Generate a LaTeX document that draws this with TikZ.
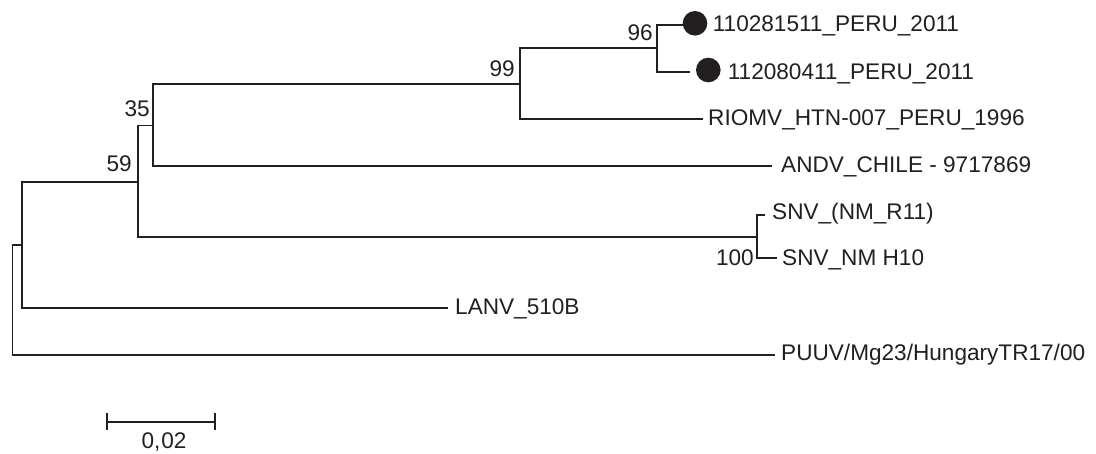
\documentclass[tikz,border=0pt]{standalone}
\usepackage{fontspec}
\setmainfont{Liberation Sans}
\definecolor{ink}{HTML}{231F20}
\begin{document}
\begin{tikzpicture}[x=1pt,y=-1pt,
  branch/.style={draw=ink, line width=1.7pt},
  leaftext/.style={anchor=base west, inner sep=0pt, text=ink, font=\fontsize{22.6}{27}\selectfont},
  support/.style={anchor=base east, inner sep=0pt, text=ink, font=\fontsize{22.6}{27}\selectfont},
  marker/.style={circle, fill=ink, inner sep=0pt, minimum size=24.6pt}]
\fill[white] (0,0) rectangle (1096,453);
\useasboundingbox (0,0) rectangle (1096,453);
% internal nodes
\coordinate (R) at (12.3,300);
\coordinate (A) at (21.7,245);
\coordinate (n59) at (137.7,182.3);
\coordinate (n35) at (153.3,125.5);
\coordinate (n99) at (520,84.3);
\coordinate (n96) at (657,48.3);
\coordinate (nSNV) at (757,237.3);
% leaf ends
\coordinate (e1) at (686,25);
\coordinate (e2) at (690,71.7);
\coordinate (eRIO) at (703,119);
\coordinate (eANDV) at (772,166);
\coordinate (eSNV1) at (765,215);
\coordinate (eSNV2) at (777,258);
\coordinate (eLANV) at (448,307.7);
\coordinate (ePUUV) at (775,355);
% branches
\draw[branch, line width=1.3pt] (R) |- (A);
\draw[branch, line width=1.3pt] (R) |- (ePUUV);
\draw[branch] (A) |- (n59);
\draw[branch] (A) |- (eLANV);
\draw[branch] (n59) |- (n35);
\draw[branch] (n59) |- (nSNV);
\draw[branch] (n35) |- (n99);
\draw[branch] (n35) |- (eANDV);
\draw[branch] (n99) |- (n96);
\draw[branch] (n99) |- (eRIO);
\draw[branch] (n96) |- (e1);
\draw[branch] (n96) |- (e2);
\draw[branch] (nSNV) |- (eSNV1);
\draw[branch] (nSNV) |- (eSNV2);
% markers
\node[marker] (d1) at (695,23.3) {};
\node[marker] (d2) at (708.3,70) {};
% leaf labels
\node[leaftext] (t1) at (712.6,31.7) {110281511\_PERU\_2011};
\node[leaftext] (t2) at (727.6,79) {112080411\_PERU\_2011};
\node[leaftext] (tRIO) at (708,125) {RIOMV\_HTN-007\_PERU\_1996};
\node[leaftext] (tANDV) at (781,172.7) {ANDV\_CHILE - 9717869};
\node[leaftext] (tSNV1) at (772,219.3) {SNV\_(NM\_R11)};
\node[leaftext] (tSNV2) at (782,265.7) {SNV\_NM H10};
\node[leaftext] (tLANV) at (455,314.3) {LANV\_510B};
\node[leaftext] (tPUUV) at (781,360.3) {PUUV/Mg23/HungaryTR17/00};
% support values
\node[support] (s99) at (515,76) {99};
\node[support] (s96) at (653,40.7) {96};
\node[support] (s35) at (150,116.7) {35};
\node[support] (s59) at (132,171.7) {59};
\node[support] (s100) at (754,265.7) {100};
% scale bar
\coordinate (sb1) at (107.3,421.7);
\coordinate (sb2) at (215,421.7);
\draw[branch] (sb1) -- (sb2);
\draw[branch] ([yshift=-8.4pt]sb1) -- ([yshift=8.4pt]sb1);
\draw[branch] ([yshift=-8.4pt]sb2) -- ([yshift=8.4pt]sb2);
\node[anchor=base, inner sep=0pt, text=ink, font=\fontsize{22.6}{27}\selectfont] (sbl) at (164,448.5) {0,\kern1pt02};
\end{tikzpicture}
\end{document}
